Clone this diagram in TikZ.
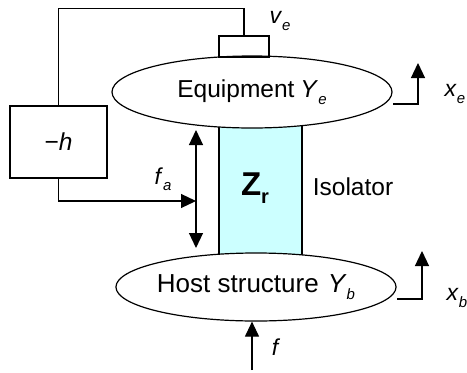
\documentclass[tikz,border=0pt]{standalone}
\usepackage{fontspec}
\setmainfont{Liberation Sans}
\usetikzlibrary{arrows.meta, positioning, shapes.geometric}
\definecolor{isofill}{RGB}{204,255,255}
\newcommand{\subsym}[2]{\textit{#1}\raisebox{-0.5ex}{\fontsize{15}{15}\selectfont\textit{#2}}}

\begin{document}
\begin{tikzpicture}[
    x=1pt, y=-1pt,
    line width=1.2pt,
    font=\fontsize{24.5}{28}\selectfont,
    body/.style={draw, ellipse, fill=white, inner sep=0pt},
    box/.style={draw, rectangle, inner sep=0pt},
    arrow/.style={-{Triangle[length=15pt, width=14pt]}},
    lab/.style={inner sep=0pt, font=\fontsize{23}{27}\selectfont}
]
\useasboundingbox (0,0) rectangle (467,373);

% Isolator (behind both bodies)
\node[box, fill=isofill, minimum width=83pt, minimum height=160pt] (iso) at (260.5,190) {};
\node[inner sep=0pt, font=\fontsize{33}{35}\selectfont\bfseries] (zr) at (255,188) {Z\raisebox{-0.45ex}{\fontsize{20}{20}\selectfont r}};
\node[inner sep=0pt] (isolab) at (353,187) {Isolator};

% Equipment and host structure
\node[body, minimum width=280pt, minimum height=72pt] (equip) at (252,92) {Equipment\hspace{6pt}\subsym{Y}{e}};
\node[body, minimum width=268pt, minimum height=68pt, font=\fontsize{26}{30}\selectfont] (host) at (256,287) {Host structure\hspace{9pt}\subsym{Y}{b}};

% Sensor and controller
\node[box, minimum width=50pt, minimum height=21pt] (sensor) at (244,46.5) {};
\node[lab] (ve) at (280,21) {\subsym{v}{e}};
\node[box, minimum width=97pt, minimum height=72pt] (ctrl) at (58.5,142) {−\textit{h}};

% Feedback loop
\coordinate (fatop) at (196,130);
\coordinate (fabot) at (196,248);
\coordinate (famid) at (196,201);
\draw (sensor.north) -- ++(0,-27) -| (ctrl.north);
\draw[arrow] (ctrl.south) |- (famid);
\draw[{Triangle[length=15pt, width=14pt]}-{Triangle[length=15pt, width=14pt]}] (fatop) -- (fabot);
\node[lab] (fa) at (163,179) {\subsym{f}{a}};

% Displacements
\coordinate (xe0) at (393,104);
\coordinate (xe1) at (418,63);
\draw[arrow] (xe0) -| (xe1);
\node[lab] (xe) at (455,94) {\subsym{x}{e}};
\coordinate (xb0) at (397,299);
\coordinate (xb1) at (422,251);
\draw[arrow] (xb0) -| (xb1);
\node[lab] (xb) at (457,298) {\subsym{x}{b}};

% External force
\coordinate (fin) at (252,370);
\draw[arrow] (fin) -- (fin |- host.south);
\node[lab] (flab) at (276,347) {\textit{f}};
\end{tikzpicture}
\end{document}
